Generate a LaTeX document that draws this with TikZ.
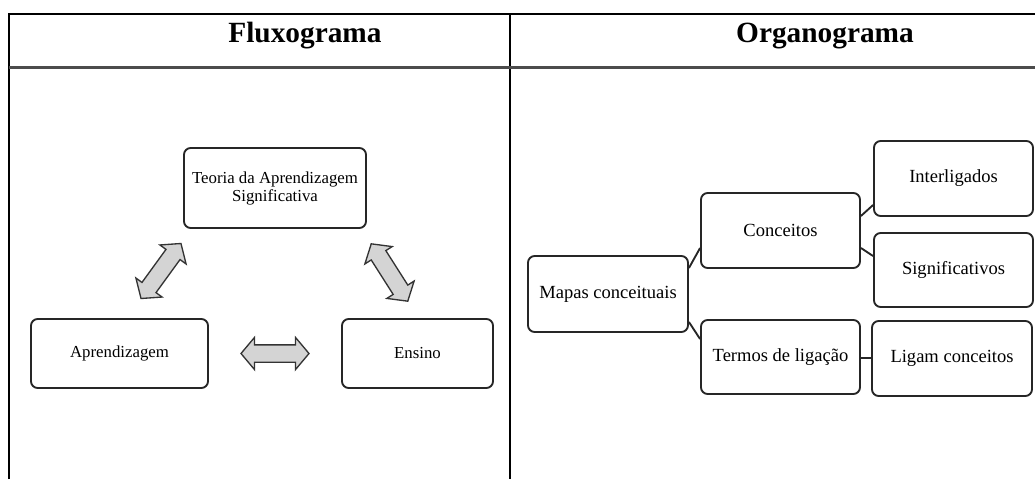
\documentclass[tikz,border=0pt]{standalone}
\usepackage{fontspec}
\setmainfont{Liberation Serif}
\usepackage{tikz}
\usetikzlibrary{
    calc,
    shapes.arrows % For the double block arrows
}
\tikzset{
    caixa/.style={draw=black!85, line width=1.4pt, rounded corners=5pt, align=center, inner sep=2pt},
    esq/.style={caixa, font=\fontsize{12.6}{13.5}\selectfont},
    dir/.style={caixa, font=\fontsize{13.9}{16}\selectfont, minimum width=159*0.75pt, minimum height=75*0.75pt},
    seta/.style={double arrow, draw=black!80, fill=black!17, line width=1pt, inner xsep=0pt, inner ysep=8*0.75pt,
        minimum height=68*0.75pt,
        double arrow head extend=7.5*0.75pt, double arrow tip angle=100},
    ramo/.style={draw=black!85, line width=1.4pt},
    titulo/.style={font=\fontsize{22}{26}\selectfont\bfseries, anchor=base}
}

\begin{document}
\begin{tikzpicture}[x=0.75pt, y=-0.75pt]
        \useasboundingbox (0,0) rectangle (1035,479);

        % table
        \draw[line width=1.5pt] (9,479) -- (9,14) -- (1035,14);
        \draw[line width=1.2pt] (510,14) -- (510,479);
        \draw[line width=2.2pt, black!70] (9,67.5) -- (1035,67.5);
        \draw (305,42) node[titulo](fluxo){Fluxograma};
        \draw (825,42) node[titulo](organo){Organograma};

        % fluxograma
        \draw (275,188) node[esq, minimum width=182*0.75pt, minimum height=80*0.75pt](teoria){Teoria da Aprendizagem\\Significativa};
        \draw (119.5,353.5) node[esq, minimum width=177*0.75pt, minimum height=69*0.75pt](aprend){Aprendizagem};
        \draw (417.5,353.5) node[esq, minimum width=151*0.75pt, minimum height=69*0.75pt](ensino){Ensino};

        \node[seta] (s1) at ($(aprend.east)!0.5!(ensino.west)$) {};
        \node[seta, rotate=54] (s2) at (161,271) {};
        \node[seta, rotate=-57.5] (s3) at (389.5,272.5) {};

        % organograma
        \draw (608,294) node[dir, minimum width=160*0.75pt, minimum height=76*0.75pt](mapas){Mapas conceituais};
        \draw (780.5,230.5) node[dir](conc){Conceitos};
        \draw (780.5,357) node[dir, minimum height=74*0.75pt](termos){Termos de ligação};
        \draw (953.5,178.5) node[dir](inter){Interligados};
        \draw (953.5,270) node[dir, minimum height=74*0.75pt](signif){Significativos};
        \draw (952,358.5) node[dir, minimum width=160*0.75pt](ligam){Ligam conceitos};

        \draw[ramo] ($(mapas.east)+(0,-26)$) -- ($(conc.west)+(0,17.5)$);
        \draw[ramo] ($(mapas.east)+(0,28)$) -- ($(termos.west)+(0,-18)$);
        \draw[ramo] ($(conc.east)+(0,-14.5)$) -- ($(inter.west)+(0,26.5)$);
        \draw[ramo] ($(conc.east)+(0,17.5)$) -- ($(signif.west)+(0,-14)$);
        \draw[ramo] ($(termos.east)+(0,1)$) -- ($(ligam.west)+(0,-0.5)$);
    \end{tikzpicture}
\end{document}
